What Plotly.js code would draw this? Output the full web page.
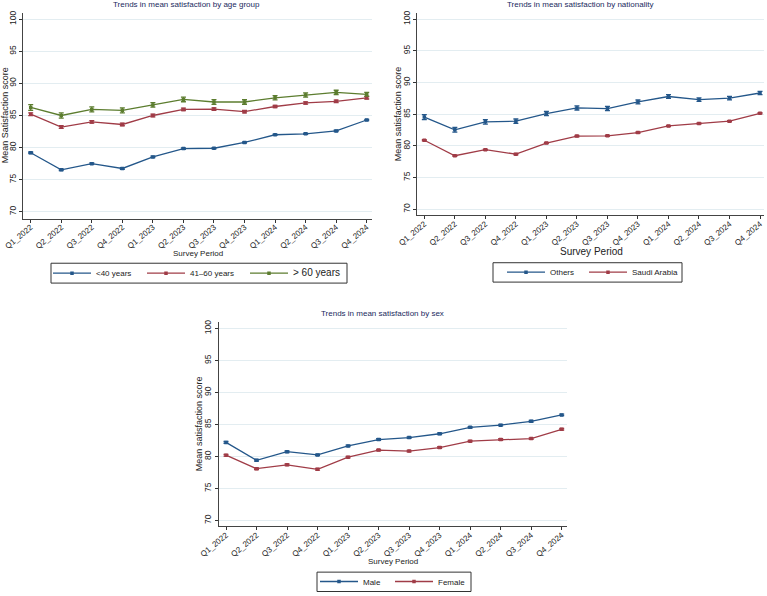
<!DOCTYPE html>
<html>
<head>
<meta charset="utf-8">
<script src="https://cdn.plot.ly/plotly-3.0.1.min.js"></script>
<style>html,body{margin:0;padding:0;background:#fff;}#chart{width:767px;height:596px;}</style>
</head>
<body>
<div id="chart"></div>
<script>
// ---- Data ----
const periods = ["Q1_2022","Q2_2022","Q3_2022","Q4_2022","Q1_2023","Q2_2023","Q3_2023","Q4_2023","Q1_2024","Q2_2024","Q3_2024","Q4_2024"];
const yTicks = [70, 75, 80, 85, 90, 95, 100];

// Panel 1: age group
const ageUnder40   = [79.2, 76.55, 77.5, 76.75, 78.55, 79.85, 79.9, 80.8, 82.0, 82.15, 82.6, 84.3];
const ageUnder40Err = [0.12, 0.12, 0.12, 0.12, 0.12, 0.12, 0.1, 0.1, 0.1, 0.1, 0.1, 0.1];
const age41to60    = [85.2, 83.2, 84.0, 83.6, 85.0, 85.95, 86.0, 85.6, 86.4, 86.95, 87.2, 87.75];
const age41to60Err = [0.22, 0.22, 0.2, 0.2, 0.2, 0.2, 0.2, 0.18, 0.18, 0.18, 0.18, 0.18];
const ageOver60    = [86.25, 85.0, 85.95, 85.8, 86.65, 87.5, 87.1, 87.1, 87.75, 88.2, 88.6, 88.3];
const ageOver60Err = [0.45, 0.4, 0.38, 0.38, 0.36, 0.36, 0.36, 0.35, 0.33, 0.33, 0.33, 0.3];

// Panel 2: nationality
const natOthers    = [84.55, 82.55, 83.8, 83.9, 85.1, 86.0, 85.9, 86.95, 87.8, 87.3, 87.55, 88.35];
const natOthersErr = [0.4, 0.38, 0.35, 0.35, 0.33, 0.33, 0.33, 0.3, 0.28, 0.28, 0.28, 0.26];
const natSaudi     = [80.9, 78.45, 79.4, 78.7, 80.45, 81.55, 81.6, 82.1, 83.15, 83.55, 83.9, 85.15];
const natSaudiErr  = [0.1, 0.1, 0.1, 0.1, 0.1, 0.1, 0.1, 0.1, 0.1, 0.1, 0.1, 0.1];

// Panel 3: sex
const sexMale      = [82.2, 79.4, 80.75, 80.25, 81.65, 82.65, 82.95, 83.55, 84.55, 84.9, 85.5, 86.5];
const sexMaleErr   = [0.14, 0.13, 0.13, 0.13, 0.12, 0.12, 0.12, 0.12, 0.12, 0.12, 0.12, 0.12];
const sexFemale    = [80.2, 78.1, 78.7, 78.0, 79.9, 81.0, 80.85, 81.4, 82.4, 82.65, 82.8, 84.25];
const sexFemaleErr = [0.14, 0.13, 0.13, 0.13, 0.12, 0.12, 0.12, 0.12, 0.12, 0.12, 0.12, 0.12];

// ---- Styling ----
const NAVY = "#24578a", MAROON = "#a03c47", GREEN = "#5c7d2f";
const FONT = "Liberation Sans, Arial, sans-serif";
const TXT = "#222";

function series(y, err, name, color, xa, ya, legend) {
  return {
    type: "scatter", mode: "lines+markers", x: periods, y: y, name: name,
    xaxis: xa, yaxis: ya, legend: legend,
    line: {color: color, width: 1.3},
    marker: {color: color, size: 3.5, symbol: "square"},
    error_y: {type: "data", array: err, visible: true, color: color, thickness: 1.3, width: 2.5},
    hoverinfo: "x+y"
  };
}

const traces = [
  series(ageUnder40, ageUnder40Err, "<40 years", NAVY, "x", "y", "legend"),
  series(age41to60, age41to60Err, "41\u201360 years", MAROON, "x", "y", "legend2"),
  series(ageOver60, ageOver60Err, '<span style="font-size:10px">&gt; 60 years</span>', GREEN, "x", "y", "legend3"),
  series(natOthers, natOthersErr, "Others", NAVY, "x2", "y2", "legend4"),
  series(natSaudi, natSaudiErr, "Saudi Arabia", MAROON, "x2", "y2", "legend5"),
  series(sexMale, sexMaleErr, "Male", NAVY, "x3", "y3", "legend6"),
  series(sexFemale, sexFemaleErr, "Female", MAROON, "x3", "y3", "legend7")
];

function xAxis(domain, anchor, range) {
  return {
    domain: domain, anchor: anchor, type: "category", range: range,
    tickangle: -40, ticks: "outside", ticklen: 3, tickcolor: "#333", tickwidth: 1,
    ticklabelstandoff: -3,
    tickfont: {family: FONT, size: 8, color: TXT},
    showline: true, linecolor: "#444", linewidth: 1, showgrid: false, zeroline: false,
    automargin: false
  };
}
function yAxis(domain, anchor, range) {
  return {
    domain: domain, anchor: anchor, range: range, tickvals: yTicks,
    tickangle: -90, ticks: "outside", ticklen: 3, tickcolor: "#333", tickwidth: 1,
    tickfont: {family: FONT, size: 8.5, color: TXT},
    showline: true, linecolor: "#444", linewidth: 1,
    showgrid: true, gridcolor: "#e3edf1", gridwidth: 1, zeroline: false,
    automargin: false
  };
}

const W = 767, H = 596;
const px = v => v / W, py = v => 1 - v / H;

function label(text, x, y, size, color, angle) {
  return {text: text, x: px(x), y: py(y), xref: "paper", yref: "paper",
    xanchor: "center", yanchor: "middle", showarrow: false, textangle: angle || 0,
    font: {family: FONT, size: size, color: color}};
}
function box(x0, y0, x1, y1) {
  return {type: "rect", xref: "paper", yref: "paper", x0: px(x0), x1: px(x1), y0: py(y1), y1: py(y0),
    line: {color: "#333", width: 1}, fillcolor: "rgba(0,0,0,0)", layer: "below"};
}
function legendAt(x, y) {
  return {orientation: "h", x: px(x), y: py(y), xanchor: "left", yanchor: "middle",
    borderwidth: 0, bgcolor: "rgba(0,0,0,0)", itemwidth: 38,
    font: {family: FONT, size: 8, color: TXT}, itemclick: false};
}

const layout = {
  width: W, height: H, margin: {l: 0, r: 0, t: 0, b: 0},
  paper_bgcolor: "#fff", plot_bgcolor: "#fff", showlegend: true,
  font: {family: FONT},
  xaxis: xAxis([px(23), px(372)], "y", [-0.252, 11.173]),
  yaxis: yAxis([py(220), py(13)], "x", [68.96, 100.97]),
  xaxis2: xAxis([px(417), px(764)], "y2", [-0.24, 11.13]),
  yaxis2: yAxis([py(216.7), py(13)], "x2", [69.06, 100.99]),
  xaxis3: xAxis([px(218.5), px(566.7)], "y3", [-0.246, 11.164]),
  yaxis3: yAxis([py(530), py(324)], "x3", [69.07, 101.04]),
  legend: legendAt(48, 275),
  legend2: legendAt(142, 275),
  legend3: legendAt(245, 275),
  legend4: legendAt(502, 274),
  legend5: legendAt(584, 274),
  legend6: legendAt(315, 585.5),
  legend7: legendAt(390, 585.5),
  shapes: [box(51, 265, 347, 285), box(493, 264.5, 682, 284), box(317, 576, 471, 595.5)],
  annotations: [
    label("Trends in mean satisfaction by age group", 186, 5, 8, "#1a2a5e"),
    label("Trends in mean satisfaction by nationality", 580, 5, 8, "#1a2a5e"),
    label("Trends in mean satisfaction by sex", 382, 315.7, 8, "#1a2a5e"),
    label("Mean Satisfaction score", 4.5, 116.5, 9, TXT, -90),
    label("Mean satisfaction score", 398, 115, 9, TXT, -90),
    label("Mean satisfaction score", 199, 427, 9, TXT, -90),
    label("Survey Period", 198, 255, 8, TXT),
    label("Survey Period", 591, 253, 10, TXT),
    label("Survey Period", 393, 565.5, 8, TXT)
  ]
};

Plotly.newPlot("chart", traces, layout, {staticPlot: true, displayModeBar: false});
</script>
</body>
</html>
